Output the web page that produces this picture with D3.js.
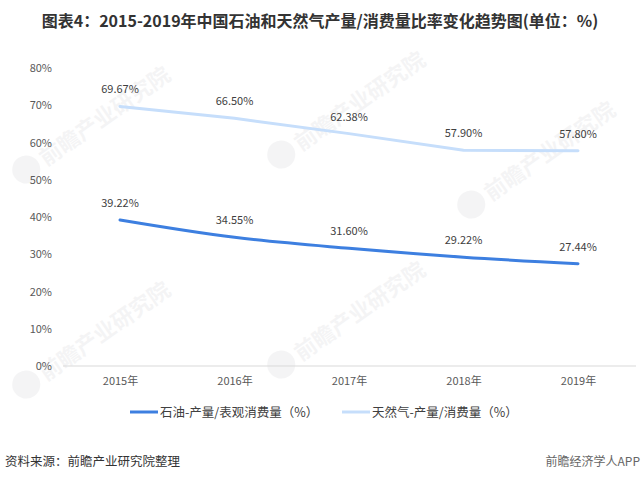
<!DOCTYPE html>
<html><head><meta charset="utf-8">
<script src="https://cdn.jsdelivr.net/npm/d3@7"></script>
<style>body{margin:0;background:#fff;font-family:"Noto Sans CJK SC","Noto Sans",sans-serif;}</style>
</head><body><svg id="c" width="642" height="482"></svg>
<script>
const years = ["2015年","2016年","2017年","2018年","2019年"];
const oilRatio = [39.22,34.55,31.60,29.22,27.44];
const gasRatio = [69.67,66.50,62.38,57.90,57.80];
const yTicks = [0,10,20,30,40,50,60,70,80];
const seriesNames = ["石油-产量/表观消费量（%）","天然气-产量/消费量（%）"];
const colors = ["#3d7fe0","#c6defb"];

const svg = d3.select("#c");
const F = '"Noto Sans CJK SC","Microsoft YaHei",sans-serif';

// faint watermarks
const wm = [[45,165],[300,150],[490,200],[45,380],[300,360]];
wm.forEach(([x,y])=>{
  const g = svg.append("g").attr("transform",`translate(${x},${y}) rotate(-35)`).attr("opacity",0.06);
  g.append("circle").attr("cx",-18).attr("cy",-7).attr("r",14).attr("fill","#556");
  g.append("text").attr("x",0).attr("y",2).attr("font-family",F).attr("font-size",22).attr("font-weight","bold").attr("fill","#556").text("前瞻产业研究院");
});

svg.append("text").attr("x",320).attr("y",27).attr("text-anchor","middle")
  .attr("font-family",F).attr("font-size",16).attr("font-weight","bold").attr("fill","#333")
  .text("图表4：2015-2019年中国石油和天然气产量/消费量比率变化趋势图(单位：%)");

const x = d3.scalePoint().domain(years).range([120,578]);
const y = d3.scaleLinear().domain([0,80]).range([366,68]);

svg.append("line").attr("x1",63).attr("x2",636).attr("y1",y(0)).attr("y2",y(0)).attr("stroke","#d9d9d9").attr("stroke-width",1);

const yAx = svg.append("g").attr("transform","translate(52,0)")
  .call(d3.axisLeft(y).tickValues(yTicks).tickFormat(d=>d+"%").tickSize(0).tickPadding(0));
yAx.select(".domain").remove();
yAx.selectAll("text").attr("font-family",F).attr("font-size",11).attr("fill","#595959");

const xAx = svg.append("g").attr("transform",`translate(0,${y(0)})`)
  .call(d3.axisBottom(x).tickSize(0).tickPadding(11));
xAx.select(".domain").remove();
xAx.selectAll("text").attr("font-family",F).attr("font-size",11).attr("fill","#595959");

const data = [oilRatio, gasRatio];
const curves = [d3.curveMonotoneX, d3.curveLinear];
data.forEach((s,i)=>{
  const line = d3.line().x((d,j)=>x(years[j])).y(d=>y(d)).curve(curves[i]);
  svg.append("path").datum(s).attr("d",line).attr("fill","none").attr("stroke",colors[i]).attr("stroke-width",3).attr("stroke-linecap","round");
  svg.selectAll(null).data(s).enter().append("text")
    .attr("x",(d,j)=>x(years[j])).attr("y",d=>y(d)-13).attr("text-anchor","middle")
    .attr("font-family",F).attr("font-size",11).attr("fill","#404040")
    .text(d=>d.toFixed(2)+"%");
});

// legend
const lx = [130,342];
seriesNames.forEach((n,i)=>{
  svg.append("line").attr("x1",lx[i]).attr("x2",lx[i]+28).attr("y1",412).attr("y2",412).attr("stroke",colors[i]).attr("stroke-width",3);
  svg.append("text").attr("x",lx[i]+30).attr("y",416.5).attr("font-family",F).attr("font-size",12.5).attr("fill","#404040").text(n);
});

svg.append("text").attr("x",5).attr("y",466).attr("font-family",F).attr("font-size",12.5).attr("fill","#333").text("资料来源：前瞻产业研究院整理");
svg.append("text").attr("x",640).attr("y",466).attr("text-anchor","end").attr("font-family",F).attr("font-size",12).attr("fill","#666").text("前瞻经济学人APP");
</script></body></html>
